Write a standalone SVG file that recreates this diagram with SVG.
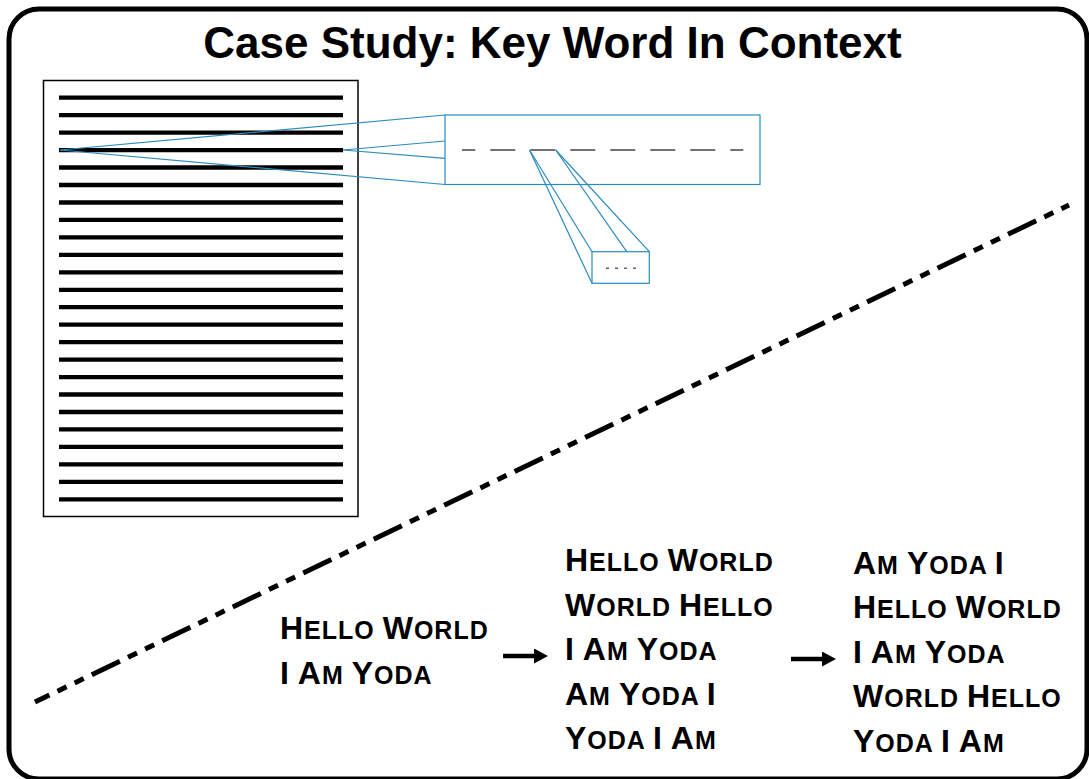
<svg xmlns="http://www.w3.org/2000/svg" width="1089" height="779" viewBox="0 0 1089 779">
<style>
.t{font-family:"Liberation Sans",Arial,sans-serif;font-weight:bold;fill:#000}
.w{font-family:"Liberation Sans",Arial,sans-serif;font-weight:bold;fill:#000;font-size:25px;letter-spacing:1px}
.b{font-size:32px}
.txt{stroke:#000;stroke-width:4.3}
.blue{stroke:#2a8bbd;stroke-width:1.2;fill:none}
</style>
<defs>
<marker id="ah" markerWidth="14" markerHeight="15" refX="0" refY="7.5" orient="auto" markerUnits="userSpaceOnUse">
<polygon points="0,0 14,7.5 0,15" fill="#000"/>
</marker>
</defs>
<rect x="9" y="9" width="1078" height="770" rx="30" fill="#fff" stroke="#000" stroke-width="5"/>
<text class="t" x="552.5" y="57.5" font-size="44" text-anchor="middle">Case Study: Key Word In Context</text>

<g id="document">
<rect x="43.5" y="80.5" width="314.5" height="436" fill="#fff" stroke="#000" stroke-width="1.5"/>
<g class="txt">
<line x1="59" y1="97.7" x2="343" y2="97.7"/>
<line x1="59" y1="115.2" x2="343" y2="115.2"/>
<line x1="59" y1="132.6" x2="343" y2="132.6"/>
<line x1="59" y1="150.1" x2="343" y2="150.1"/>
<line x1="59" y1="167.5" x2="343" y2="167.5"/>
<line x1="59" y1="185" x2="343" y2="185"/>
<line x1="59" y1="202.5" x2="343" y2="202.5"/>
<line x1="59" y1="219.9" x2="343" y2="219.9"/>
<line x1="59" y1="237.4" x2="343" y2="237.4"/>
<line x1="59" y1="254.8" x2="343" y2="254.8"/>
<line x1="59" y1="272.3" x2="343" y2="272.3"/>
<line x1="59" y1="289.8" x2="343" y2="289.8"/>
<line x1="59" y1="307.2" x2="343" y2="307.2"/>
<line x1="59" y1="324.7" x2="343" y2="324.7"/>
<line x1="59" y1="342.1" x2="343" y2="342.1"/>
<line x1="59" y1="359.6" x2="343" y2="359.6"/>
<line x1="59" y1="377.1" x2="343" y2="377.1"/>
<line x1="59" y1="394.5" x2="343" y2="394.5"/>
<line x1="59" y1="412" x2="343" y2="412"/>
<line x1="59" y1="429.4" x2="343" y2="429.4"/>
<line x1="59" y1="446.9" x2="343" y2="446.9"/>
<line x1="59" y1="464.4" x2="343" y2="464.4"/>
<line x1="59" y1="481.8" x2="343" y2="481.8"/>
<line x1="59" y1="499.3" x2="343" y2="499.3"/>
</g>
</g>

<g id="zoom-line">
<rect x="445" y="115" width="315" height="69.5" fill="#fff" stroke="#2a8bbd" stroke-width="1.2"/>
<line x1="462" y1="150" x2="743.3" y2="150" stroke="#444" stroke-width="1.5" stroke-dasharray="25 15" stroke-dashoffset="11.7"/>
</g>

<g id="zoom-word">
<rect x="592" y="251.7" width="57.3" height="31.6" fill="#fff" stroke="#2a8bbd" stroke-width="1.2"/>
<line x1="606" y1="268.3" x2="636" y2="268.3" stroke="#666" stroke-width="1.5" stroke-dasharray="3 6"/>
</g>

<g id="connectors">
<g class="blue">
<line x1="60" y1="150" x2="445" y2="115"/>
<line x1="60" y1="150" x2="445" y2="184.5"/>
<line x1="343" y1="150" x2="445" y2="141"/>
<line x1="343" y1="150" x2="445" y2="158.3"/>
<line x1="529.5" y1="150" x2="592" y2="283.3"/>
<line x1="529.5" y1="150" x2="592" y2="251.7"/>
<line x1="555.7" y1="150" x2="626.7" y2="251.7"/>
<line x1="555.7" y1="150" x2="649.3" y2="251.7"/>
</g>
<line x1="35" y1="702" x2="1069" y2="205" stroke="#000" stroke-width="5" stroke-dasharray="31.2 9 10 9 10 9" stroke-dashoffset="15.2"/>
<line x1="503" y1="656" x2="534" y2="656" stroke="#000" stroke-width="4.5" marker-end="url(#ah)"/>
<line x1="791" y1="659" x2="822" y2="659" stroke="#000" stroke-width="4.5" marker-end="url(#ah)"/>
</g>

<g id="input">
<text class="w" x="280" y="639"><tspan class="b">H</tspan>ELLO <tspan class="b">W</tspan>ORLD</text>
<text class="w" x="280" y="683.5"><tspan class="b">I</tspan> <tspan class="b">A</tspan>M <tspan class="b">Y</tspan>ODA</text>
</g>

<g id="shifts">
<text class="w" x="565" y="571"><tspan class="b">H</tspan>ELLO <tspan class="b">W</tspan>ORLD</text>
<text class="w" x="565" y="615.5"><tspan class="b">W</tspan>ORLD <tspan class="b">H</tspan>ELLO</text>
<text class="w" x="565" y="660"><tspan class="b">I</tspan> <tspan class="b">A</tspan>M <tspan class="b">Y</tspan>ODA</text>
<text class="w" x="565" y="704.5"><tspan class="b">A</tspan>M <tspan class="b">Y</tspan>ODA <tspan class="b">I</tspan></text>
<text class="w" x="565" y="749"><tspan class="b">Y</tspan>ODA <tspan class="b">I</tspan> <tspan class="b">A</tspan>M</text>
</g>

<g id="sorted">
<text class="w" x="853" y="573.5"><tspan class="b">A</tspan>M <tspan class="b">Y</tspan>ODA <tspan class="b">I</tspan></text>
<text class="w" x="853" y="618"><tspan class="b">H</tspan>ELLO <tspan class="b">W</tspan>ORLD</text>
<text class="w" x="853" y="662.5"><tspan class="b">I</tspan> <tspan class="b">A</tspan>M <tspan class="b">Y</tspan>ODA</text>
<text class="w" x="853" y="707"><tspan class="b">W</tspan>ORLD <tspan class="b">H</tspan>ELLO</text>
<text class="w" x="853" y="751.5"><tspan class="b">Y</tspan>ODA <tspan class="b">I</tspan> <tspan class="b">A</tspan>M</text>
</g>
</svg>
